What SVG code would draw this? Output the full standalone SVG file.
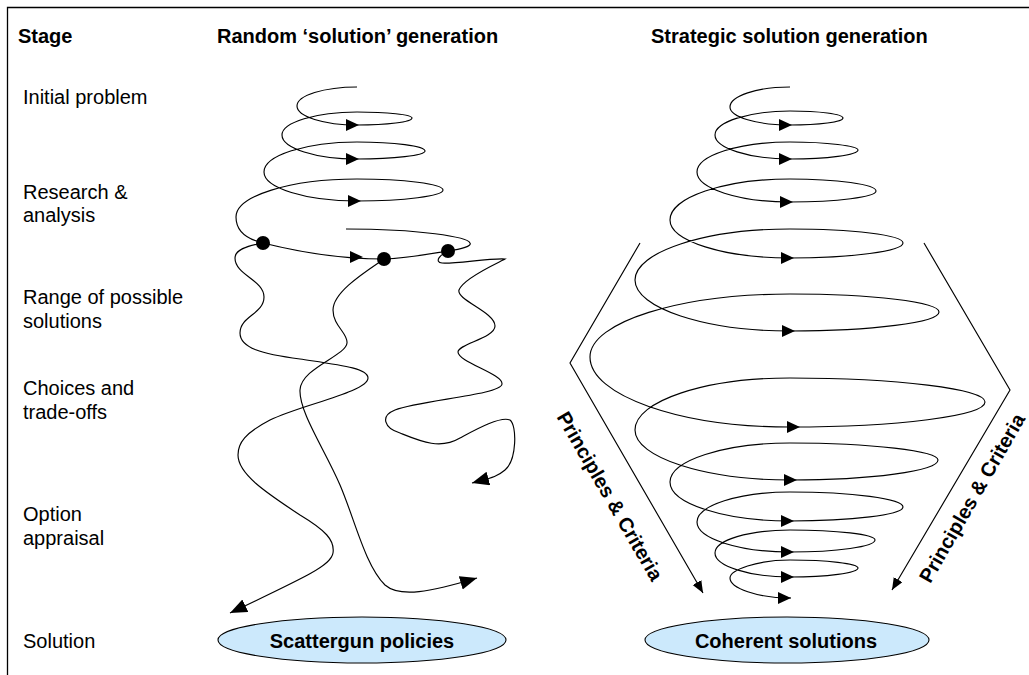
<svg xmlns="http://www.w3.org/2000/svg" width="1029" height="675" viewBox="0 0 1029 675">
<style>
.t{font-family:"Liberation Sans",Arial,sans-serif;font-size:20px;fill:#000}
.b{font-family:"Liberation Sans",Arial,sans-serif;font-size:20px;font-weight:bold;fill:#000}
.ln{fill:none;stroke:#000;stroke-width:1.15}
.el{fill:#cce9fc;stroke:#000;stroke-width:1.1}
.dot{fill:#000}
</style>
<defs>
<path id="ah" d="M-6,-6 L7,0 L-6,6 Z" fill="#000"/>
<marker id="big" markerUnits="userSpaceOnUse" markerWidth="18" markerHeight="15" refX="17" refY="7" orient="auto"><path d="M0,0 L17,7 L0,14 Z" fill="#000"/></marker>
<marker id="sm" markerUnits="userSpaceOnUse" markerWidth="13" markerHeight="11" refX="12" refY="5" orient="auto"><path d="M0,0 L12,5 L0,10 Z" fill="#000"/></marker>
<marker id="sp" markerUnits="userSpaceOnUse" markerWidth="14" markerHeight="13" refX="13" refY="6" orient="auto"><path d="M0,0 L13,6 L0,12 Z" fill="#000"/></marker>
</defs>
<path d="M7.5,675 V7.5 H1029" fill="none" stroke="#000" stroke-width="1.3"/>
<g id="headers">
<text x="18" y="43" class="b">Stage</text>
<text x="217" y="43" class="b">Random ‘solution’ generation</text>
<text x="651" y="43" class="b">Strategic solution generation</text>
</g>
<g id="stages">
<text x="23" y="104" class="t">Initial problem</text>
<text x="23" y="199" class="t">Research &amp;</text>
<text x="23" y="222" class="t">analysis</text>
<text x="23" y="304" class="t">Range of possible</text>
<text x="23" y="328" class="t">solutions</text>
<text x="23" y="395" class="t">Choices and</text>
<text x="23" y="419" class="t">trade-offs</text>
<text x="23" y="521" class="t">Option</text>
<text x="23" y="545" class="t">appraisal</text>
<text x="23" y="648" class="t">Solution</text>
</g>
<g id="connectors">
<g id="random-spiral">
<path class="ln" d="M357,87 C324,87 297,95.5 297,106 C297,116.5 324,125 357,125 C387,125 412,122 412,118 C412,114.7 387,112 357,112 C316,112 282,122.4 282,135 C282,148.2 316,159 357,159 C394,159 425,155.4 425,151 C425,146 394,142 357,142 C306,142 264,155.5 264,172 C264,188 306,201 357,201 C404,201 443,196 443,190 C443,184 404,179 357,179 C290,179 236,196 236,217 C236,230 246,239 263,243 C295,251 340,259 384,259 C410,258 435,253 448,251 C462,249 472,246 470,243 C468,237 420,229 346,229"/>
<use href="#ah" x="352" y="125"/>
<use href="#ah" x="352" y="159"/>
<use href="#ah" x="354" y="201"/>
<use href="#ah" x="356" y="257"/>
</g>
<g id="random-paths">
<path class="ln" marker-end="url(#big)" d="M263,243 C246,246 235,250 235,258 C235,275 264,280 264,297 C264,314 240,316 240,333 C240,348 262,354 300,359 C340,365 368,368 368,378 C368,392 300,405 270,420 C245,433 238,443 238,455 C238,475 270,495 300,515 C325,530 335,540 333,553 C331,565 310,575 230,613"/>
<path class="ln" marker-end="url(#big)" d="M384,259 C365,272 333,292 333,310 C333,326 348,333 347,343 C346,356 301,368 300,390 C299,412 325,450 340,485 C355,520 365,565 385,585 C400,598 430,592 477,578"/>
<path class="ln" marker-end="url(#big)" d="M448,252 C440,254 434,262 442,263 C455,264 490,258 505,259 C500,262 463,278 459,290 C456,300 495,312 495,326 C495,338 458,344 458,352 C458,362 503,374 502,384 C501,395 420,400 395,410 C380,416 384,428 400,433 C420,441 440,450 460,438 C475,430 500,416 510,420 C517,425 517,460 505,470 C497,477 490,478 472,483"/>
</g>
<g id="strategic-spiral">
<path class="ln" marker-end="url(#sp)" d="M790,87 C757,87 730,96 730,107 C730,117 757,125 790,125 C819,125 843,122 843,118 C843,114 819,111 790,111 C749,111 715,122 715,135 C715,148 749,159 790,159 C827,159 858,155 858,150 C858,146 827,142 790,142 C739,142 697,155.5 697,172 C697,188.5 739,202 790,202 C837,202 876,197 876,191 C876,184.4 837,179 790,179 C724,179 670,197.5 670,220 C670,241 724,258 790,258 C852,258 903,251 903,243 C903,235 852,229 790,229 C705,229 635,252 635,280 C635,308 705,331 790,331 C872,331 939,322.5 939,312 C939,302 872,294 790,294 C680,294 590,322 590,357 C590,395.5 680,427 790,427 C897,427 985,416 985,402 C985,389 897,378 790,378 C705,378 635,401 635,430 C635,457.5 705,480 790,480 C871,480 938,471 938,460 C938,451 871,443 790,443 C724,443 670,460.5 670,482 C670,503.5 724,521 790,521 C852,521 903,514.7 903,507 C903,498.75 852,492 790,492 C739,492 697,505.5 697,522 C697,538.5 739,552 790,552 C837,552 875,546.6 875,540 C875,534.5 837,530 790,530 C749,530 715,540 715,553 C715,566 749,577 790,577 C827,577 858,573 858,568 C858,563.6 827,560 790,560 C757,560 730,570 730,578 C730,588 757,598 791,598"/>
<use href="#ah" x="785" y="125"/>
<use href="#ah" x="785" y="159"/>
<use href="#ah" x="786" y="202"/>
<use href="#ah" x="787" y="258"/>
<use href="#ah" x="788" y="331"/>
<use href="#ah" x="793" y="427"/>
<use href="#ah" x="790" y="480"/>
<use href="#ah" x="787" y="521"/>
<use href="#ah" x="787" y="552"/>
<use href="#ah" x="787" y="577"/>
</g>
<g id="criteria-lines">
<path class="ln" marker-end="url(#sm)" d="M640,243 L570,363 L703,593"/>
<path class="ln" marker-end="url(#sm)" d="M924,243 L1010,390 L892,590"/>
</g>
</g>
<g id="dots">
<circle class="dot" cx="263" cy="243" r="7"/>
<circle class="dot" cx="384" cy="259" r="7"/>
<circle class="dot" cx="448" cy="251" r="7"/>
</g>
<g id="criteria-labels">
<text class="b" text-anchor="middle" transform="translate(610,496) rotate(60) translate(0,7)">Principles &amp; Criteria</text>
<text class="b" text-anchor="middle" transform="translate(972,498) rotate(-60) translate(0,7)">Principles &amp; Criteria</text>
</g>
<g id="scattergun">
<ellipse class="el" cx="362" cy="640" rx="144" ry="23"/>
<text class="b" x="362" y="648" text-anchor="middle">Scattergun policies</text>
</g>
<g id="coherent">
<ellipse class="el" cx="787" cy="640" rx="142" ry="23"/>
<text class="b" x="786" y="648" text-anchor="middle">Coherent solutions</text>
</g>
</svg>
